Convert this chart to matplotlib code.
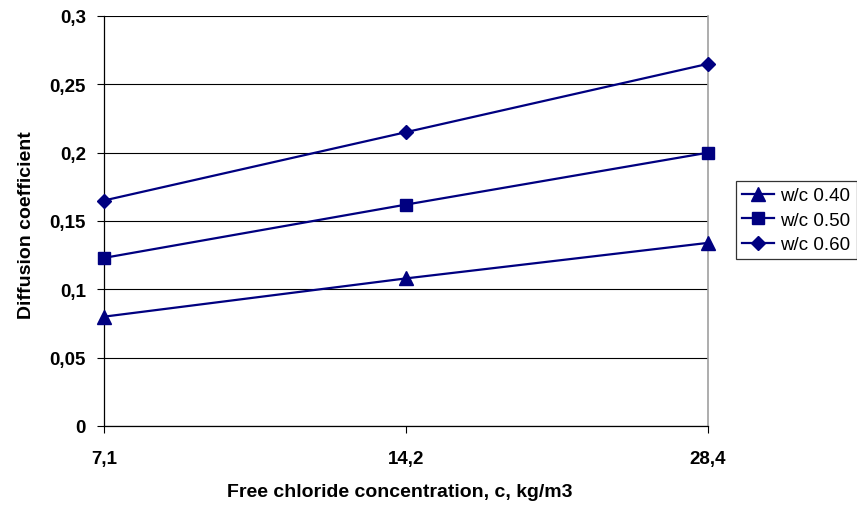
import matplotlib
matplotlib.use('Agg')
from matplotlib import pyplot as plt
from matplotlib.ticker import FuncFormatter

plt.rcParams['font.family'] = ['Liberation Sans', 'DejaVu Sans']

# chloride levels (category axis) and diffusion coefficients per w/c ratio
concentrations = ['7,1', '14,2', '28,4']
wc_labels = ['w/c 0.40', 'w/c 0.50', 'w/c 0.60']
wc_040 = [0.080, 0.108, 0.134]
wc_050 = [0.123, 0.162, 0.200]
wc_060 = [0.165, 0.215, 0.265]
y_ticks = [0, 0.05, 0.1, 0.15, 0.2, 0.25, 0.3]

navy = '#000080'

fig = plt.figure(figsize=(8.57, 5.10), dpi=100)
ax = fig.add_axes([104 / 857, 83 / 510, 604 / 857, 410 / 510])

xs = list(range(len(concentrations)))
series = [(wc_040, '^', 9.5), (wc_050, 's', 9.0), (wc_060, 'D', 7.0)]
for (vals, marker, ms), label in zip(series, wc_labels):
    ax.plot(xs, vals, color=navy, lw=1.6, marker=marker, ms=ms,
            label=label, clip_on=False, zorder=5)

ax.set_xlim(0, len(concentrations) - 1)
ax.set_ylim(0, 0.3)
ax.set_yticks(y_ticks)
ax.yaxis.set_major_formatter(FuncFormatter(lambda v, p: ('%g' % v).replace('.', ',')))
ax.set_xticks(xs)
ax.set_xticklabels(concentrations)

ax.grid(axis='y', color='black', lw=0.8)
ax.set_axisbelow(True)
ax.spines['top'].set_visible(False)
ax.spines['right'].set_color('#a0a0a0')
ax.spines['right'].set_linewidth(1.2)
for side in ('left', 'bottom'):
    ax.spines[side].set_color('black')
    ax.spines[side].set_linewidth(0.9)

ax.tick_params(axis='both', direction='out', length=5, width=0.8, labelsize=13.5)
ax.tick_params(axis='y', pad=8)
ax.tick_params(axis='x', pad=12)
for lab in ax.get_xticklabels() + ax.get_yticklabels():
    lab.set_fontweight('bold')

ax.set_ylabel('Diffusion coefficient', fontsize=14, fontweight='bold')
ax.set_xlabel('Free chloride concentration, c, kg/m3', fontsize=14, fontweight='bold')
ax.yaxis.set_label_coords((35 - 104) / 604, (427 - 225) / 410)
ax.xaxis.set_label_coords((400 - 104) / 604, (427 - 484) / 410)

leg = ax.legend(loc='upper left', bbox_to_anchor=(736 / 857, 1 - 182 / 510), bbox_transform=fig.transFigure,
                frameon=True, fancybox=False, edgecolor='black', fontsize=13.5,
                handlelength=1.7, handletextpad=0.35, borderpad=0.32, labelspacing=0.4, borderaxespad=0)
leg.get_frame().set_linewidth(0.9)

fig.savefig('out.png', dpi=100)
